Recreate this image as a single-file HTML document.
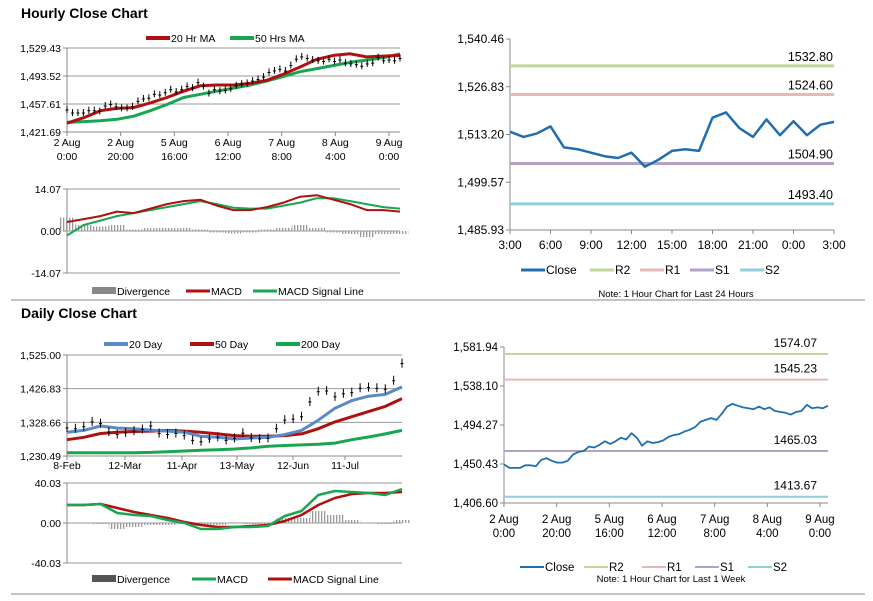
<!DOCTYPE html>
<html><head><meta charset="utf-8"><style>
html,body{margin:0;padding:0;background:#fff;}
svg{display:block;font-family:"Liberation Sans",Arial,sans-serif;}
.t{font-size:10.5px;fill:#000;}
.ttl{font-size:14px;font-weight:bold;fill:#000;}
</style></head><body>
<svg id="s" width="873" height="601" viewBox="0 0 873 601">
<defs><pattern id="stripe" width="3" height="4" patternUnits="userSpaceOnUse"><rect x="0" y="0" width="1.3" height="4" fill="#999"/></pattern></defs>
<text class="ttl" x="21" y="18">Hourly Close Chart</text>
<text class="ttl" x="21" y="318">Daily Close Chart</text>
<line x1="11" y1="300" x2="865" y2="300" stroke="#888" stroke-width="1"/>
<line x1="11" y1="594" x2="865" y2="594" stroke="#888" stroke-width="1"/>
</svg>
<script>
// ---- Hourly (1 week) close series ----
const weekClose=[1450,1446,1446,1446,1449,1449,1448,1455,1457,1454,1452,1452,1454,1461,1464,1465,1470,1469,1472,1476,1473,1476,1480,1478,1485,1480,1471,1476,1474,1475,1477,1481,1483,1484,1487,1489,1492,1498,1500,1502,1500,1507,1515,1518,1516,1514,1513,1512,1515,1512,1514,1510,1509,1508,1506,1509,1510,1517,1513,1514,1513,1516];
const hourTicks=["2 Aug|0:00","2 Aug|20:00","5 Aug|16:00","6 Aug|12:00","7 Aug|8:00","8 Aug|4:00","9 Aug|0:00"];
const ma20h=[1433,1440,1449,1452,1453,1459,1466,1474,1481,1482,1482,1484,1488,1496,1505,1515,1520,1522,1518,1519,1520];
const ma50h=[1434,1435,1436,1438,1442,1449,1457,1466,1470,1474,1478,1482,1487,1493,1499,1503,1507,1511,1514,1517,1522];
const hMacd=[3,4,5,6.5,6,7.5,9,10,10.5,8.5,7,7,8,9.5,11.5,12,10.5,9,7,7,6.5];
const hSignal=[-1.5,2,3.5,5,6,7,8,9,10,9,7.8,7.5,7.5,8.5,9.5,11,11,10,9,8,7.5];
const hDiv=[4.5,2,1.5,2,0.5,1,1,1,0.5,-0.5,-0.8,-0.5,0.5,1,2,1,-0.5,-1,-2,-1,-1];
const hYTicks=["1,529.43","1,493.52","1,457.61","1,421.69"];
const hMacdTicks=["14.07","0.00","-14.07"];
// ---- Last 24h ----
const dayClose=[1514,1512.5,1513.5,1515.5,1509.5,1509,1508,1507,1506.5,1508,1504,1506,1508.5,1509,1508.5,1518,1519.5,1515,1512.5,1517.5,1513,1517,1513,1516,1516.8];
const dayTicks=["3:00","6:00","9:00","12:00","15:00","18:00","21:00","0:00","3:00"];
const dayYTicks=["1,540.46","1,526.83","1,513.20","1,499.57","1,485.93"];
const dayLevels=[1532.80,1524.60,1504.90,1493.40];
const weekLevels=[1574.07,1545.23,1465.03,1413.67];
const weekYTicks=["1,581.94","1,538.10","1,494.27","1,450.43","1,406.60"];
// ---- Daily ----
const dClose=[1312,1310,1316,1330,1325,1300,1293,1298,1303,1308,1318,1296,1293,1296,1290,1276,1272,1280,1285,1276,1282,1297,1283,1280,1282,1310,1335,1338,1345,1388,1418,1420,1403,1412,1415,1428,1430,1428,1425,1450,1500];
const dTicks=["8-Feb","12-Mar","11-Apr","13-May","12-Jun","11-Jul"];
const ma20d=[1300,1305,1318,1312,1310,1306,1303,1300,1288,1285,1280,1283,1285,1293,1305,1335,1370,1392,1405,1410,1432];
const ma50d=[1278,1285,1296,1300,1302,1303,1305,1303,1300,1295,1290,1288,1288,1290,1295,1310,1330,1345,1360,1375,1398];
const ma200d=[1240,1240,1240,1240,1240,1241,1243,1245,1247,1249,1251,1254,1259,1261,1263,1265,1268,1278,1286,1295,1305];
const dMacd=[18,18,19,10,8,7,3,0,-6,-6,-4,-4,-3,7,12,28,32,31,30,28,34];
const dSignal=[18,18,19,15,11,8,5,1,-2,-4,-4,-3,-2,2,8,18,25,29,30,30,31];
const dDiv=[0,0,-1,-6,-4,-2,-2,-1,-3,-2,0,-1,-1,5,5,12,8,3,0,-1,3];
const dYTicks=["1,525.00","1,426.83","1,328.66","1,230.49"];
const dMacdTicks=["40.03","0.00","-40.03"];

const S=document.getElementById('s');const NS="http://www.w3.org/2000/svg";
function mk(tag,attrs,name,parent){const e=document.createElementNS(NS,tag);for(const k in attrs)e.setAttribute(k,attrs[k]);


(parent||S).appendChild(e);return e;}
function txt(x,y,s,name,anchor,size){const e=mk('text',{x:x,y:y,class:'t','text-anchor':anchor||'start'},name);if(size)e.style.fontSize=size+'px';e.textContent=s;return e;}
function lin(x0,x1,min,max,y0,y1){return {x:i=>x0+i*(x1-x0),y:v=>y0+(max-v)/(max-min)*(y1-y0)};}
function poly(arr,xf,yf,color,w,name){const n=arr.length;const pts=arr.map((v,i)=>xf(i/(n-1)).toFixed(1)+','+yf(v).toFixed(1)).join(' ');return mk('polyline',{points:pts,fill:'none',stroke:color,'stroke-width':w,'stroke-linejoin':'round'},name);}
function yaxis(x,y0,y1,labels,name,grid,xr,fs){const n=labels.length;labels.forEach((l,i)=>{const y=y0+i*(y1-y0)/(n-1);
 if(grid&&i<n-1)mk('line',{x1:x,y1:y,x2:xr,y2:y,stroke:'#999','stroke-width':1},name+'-grid');
 mk('line',{x1:x-4,y1:y,x2:x,y2:y,stroke:'#888'},name+'-tick');
 txt(x-6,y+4,l,name+'-label','end',fs);});
 mk('line',{x1:x,y1:y0,x2:x,y2:y1,stroke:'#888'},name+'-line');}
function legend(items,y,fs){items.forEach(it=>{mk('line',{x1:it[0],y1:y,x2:it[0]+24,y2:y,stroke:it[2],'stroke-width':it[3]||4},'legend-swatch');txt(it[0]+25,y+4,it[1],'legend-entry','start',fs);});}

// ===== Hourly candles panel =====
(function(){const X0=67,X1=400,Y0=48,Y1=132;const sc=lin(X0,X1,1421.69,1529.43,Y0,Y1);
yaxis(X0,Y0,Y1,hYTicks,'hourly-y-axis',true,X1);
mk('line',{x1:X0,y1:Y1,x2:X1,y2:Y1,stroke:'#888'},'hourly-x-axis');
hourTicks.forEach((t,i)=>{const x=X0+i*(389-67)/6;mk('line',{x1:x,y1:Y1,x2:x,y2:Y1+4,stroke:'#888'},'hourly-x-tick');const p=t.split('|');txt(x,Y1+14,p[0],'hourly-x-label','middle');txt(x,Y1+28,p[1],'hourly-x-label','middle');});
poly(ma50h,sc.x,sc.y,'#1aa550',3,'ma50-line');poly(ma20h,sc.x,sc.y,'#b01010',3,'ma20-line');
const n=weekClose.length;weekClose.forEach((v,i)=>{const x=sc.x(i/(n-1));const y=sc.y(v);mk('line',{x1:x,y1:y-4,x2:x,y2:y+3,stroke:'#000','stroke-width':1},'candle');mk('line',{x1:x-1.5,y1:y,x2:x+1.5,y2:y,stroke:'#000','stroke-width':1},'candle-body');});
legend([[146,'20 Hr MA','#b01010'],[230,'50 Hrs MA','#1aa550']],38);
// MACD
const M0=189,M1=273;const m=lin(X0,X1,-14.07,14.07,M0,M1);
yaxis(X0,M0,M1,hMacdTicks,'hourly-macd-y-axis',false);
mk('line',{x1:X0,y1:M0,x2:X1,y2:M0,stroke:'#999'},'hourly-macd-top');mk('line',{x1:X0,y1:M1,x2:X1,y2:M1,stroke:'#999'},'hourly-macd-bottom');
mk('line',{x1:X0,y1:231,x2:X1,y2:231,stroke:'#999'},'hourly-macd-zero');
const nd=hDiv.length,bw=(X1-X0)/(nd-1);hDiv.forEach((v,i)=>{const x=m.x(i/(nd-1));const y=m.y(v),z=m.y(0);mk('rect',{x:x-bw/2,y:Math.min(y,z),width:bw,height:Math.abs(z-y),fill:'url(#stripe)'},'divergence-bar');});
poly(hSignal,m.x,m.y,'#1aa550',2,'macd-signal-line');poly(hMacd,m.x,m.y,'#b01010',2,'macd-line');
mk('rect',{x:92,y:287,width:24,height:7,fill:'#888'},'legend-swatch');txt(117,295,'Divergence','legend-entry');
legend([[186,'MACD','#b01010',3],[253,'MACD Signal Line','#1aa550',3]],291);
})();

// ===== Last 24h panel =====
(function(){const X0=510,X1=834,Y0=39,Y1=230;const sc=lin(X0,X1,1485.93,1540.46,Y0,Y1);
yaxis(X0,Y0,Y1,dayYTicks,'day-y-axis',false,0,12);
mk('line',{x1:X0,y1:Y1,x2:X1,y2:Y1,stroke:'#888'},'day-x-axis');
dayTicks.forEach((t,i)=>{const x=X0+i*(X1-X0)/8;mk('line',{x1:x,y1:Y1,x2:x,y2:Y1+4,stroke:'#888'},'day-x-tick');txt(x,Y1+19,t,'day-x-label','middle',12);});
const cols=['#c3d69b','#e6b9b8','#b3a2c7','#93cddd'];
dayLevels.forEach((v,i)=>{const y=sc.y(v);mk('line',{x1:X0,y1:y,x2:X1,y2:y,stroke:cols[i],'stroke-width':3},'level-line');txt(X1-1,y-5,v.toFixed(2),'level-label','end',12.5);});
poly(dayClose,sc.x,sc.y,'#1f6fb0',2.5,'close-line');
legend([[521,'Close','#1f6fb0',3],[590,'R2','#c3d69b',3],[640,'R1','#e6b9b8',3],[690,'S1','#b3a2c7',3],[740,'S2','#93cddd',3]],270,12);
txt(676,297,'Note: 1 Hour Chart for Last 24 Hours','note','middle',9.5);
})();

// ===== Last week panel =====
(function(){const X0=504,X1=828,Y0=347,Y1=503;const sc=lin(X0,X1,1406.60,1581.94,Y0,Y1);
yaxis(X0,Y0,Y1,weekYTicks,'week-y-axis',false,0,11.5);
mk('line',{x1:X0,y1:Y1,x2:X1,y2:Y1,stroke:'#888'},'week-x-axis');
hourTicks.forEach((t,i)=>{const x=X0+i*(820-504)/6;mk('line',{x1:x,y1:Y1,x2:x,y2:Y1+4,stroke:'#888'},'week-x-tick');const p=t.split('|');txt(x,Y1+20,p[0],'week-x-label','middle',11.5);txt(x,Y1+34,p[1],'week-x-label','middle',11.5);});
const cols=['#c3d69b','#e6b9b8','#b3a2c7','#93cddd'];
weekLevels.forEach((v,i)=>{const y=sc.y(v);mk('line',{x1:X0,y1:y,x2:X1,y2:y,stroke:cols[i],'stroke-width':2},'level-line');txt(817,y-7,v.toFixed(2),'level-label','end',12);});
poly(weekClose,sc.x,sc.y,'#1f6fb0',1.8,'close-line');
legend([[520,'Close','#1f6fb0',2],[584,'R2','#c3d69b',2],[642,'R1','#e6b9b8',2],[695,'S1','#b3a2c7',2],[748,'S2','#93cddd',2]],567,11.5);
txt(671,582,'Note: 1 Hour Chart for Last 1 Week','note','middle',9.5);
})();

// ===== Daily panel =====
(function(){const X0=67,X1=402,Y0=355,Y1=456;const sc=lin(X0,X1,1230.49,1525,Y0,Y1);
yaxis(X0,Y0,Y1,dYTicks,'daily-y-axis',true,X1);
mk('line',{x1:X0,y1:Y1,x2:X1,y2:Y1,stroke:'#888'},'daily-x-axis');
const tx=[67,125,182,237,293,345];
dTicks.forEach((t,i)=>{mk('line',{x1:tx[i],y1:Y1,x2:tx[i],y2:Y1+4,stroke:'#888'},'daily-x-tick');txt(tx[i],Y1+13,t,'daily-x-label','middle');});
poly(ma200d,sc.x,sc.y,'#1aa550',3,'ma200-line');poly(ma50d,sc.x,sc.y,'#b01010',3,'ma50-line');poly(ma20d,sc.x,sc.y,'#5b8ac6',3,'ma20-line');
const n=dClose.length;dClose.forEach((v,i)=>{const x=sc.x(i/(n-1));const y=sc.y(v);mk('line',{x1:x,y1:y-5,x2:x,y2:y+4,stroke:'#000','stroke-width':1},'candle');mk('line',{x1:x-1.5,y1:y,x2:x+1.5,y2:y,stroke:'#000','stroke-width':1},'candle-body');});
legend([[104,'20 Day','#5b8ac6'],[190,'50 Day','#b01010'],[276,'200 Day','#1aa550']],344);
const M0=483,M1=563;const m=lin(X0,X1,-40.03,40.03,M0,M1);
yaxis(X0,M0,M1,dMacdTicks,'daily-macd-y-axis',false);
mk('line',{x1:X0,y1:M0,x2:X1,y2:M0,stroke:'#999'},'daily-macd-top');mk('line',{x1:X0,y1:M1,x2:X1,y2:M1,stroke:'#999'},'daily-macd-bottom');
mk('line',{x1:X0,y1:523,x2:X1,y2:523,stroke:'#999'},'daily-macd-zero');
const nd=dDiv.length,bw=(X1-X0)/(nd-1);dDiv.forEach((v,i)=>{const x=m.x(i/(nd-1));const y=m.y(v),z=m.y(0);mk('rect',{x:x-bw/2,y:Math.min(y,z),width:bw,height:Math.abs(z-y),fill:'url(#stripe)'},'divergence-bar');});
poly(dSignal,m.x,m.y,'#b01010',2.5,'macd-signal-line');poly(dMacd,m.x,m.y,'#1aa550',2.5,'macd-line');
mk('rect',{x:92,y:575,width:24,height:7,fill:'#555'},'legend-swatch');txt(117,583,'Divergence','legend-entry');
legend([[192,'MACD','#1aa550',3],[268,'MACD Signal Line','#b01010',3]],579);
})();
</script>
</body></html>
